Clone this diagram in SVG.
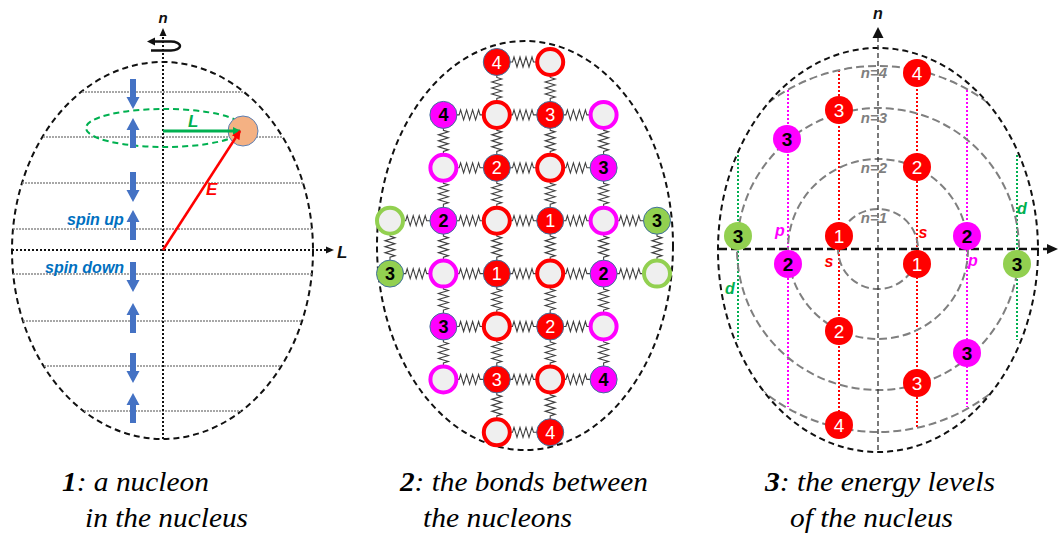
<svg xmlns="http://www.w3.org/2000/svg" xmlns:xlink="http://www.w3.org/1999/xlink" width="1062" height="536" viewBox="0 0 1062 536">
  <style>
    .frame { fill: none; stroke: #111; stroke-width: 2; stroke-dasharray: 6 4; }
    .chord { stroke: #8a8a8a; stroke-width: 1.6; stroke-dasharray: 2 1; }
    .axis1 { stroke: #111; stroke-width: 2; stroke-dasharray: 2 2; fill: none; }
    .spin { fill: #4472c4; }
    .lbl { font-family: "Liberation Sans", Arial, sans-serif; font-weight: bold; font-style: italic; }
    .sp { fill: none; stroke: #404040; stroke-width: 1.1; }
    .fr { fill: #ff0000; stroke: #41719c; stroke-width: 1; }
    .fm { fill: #ff00ff; stroke: #41719c; stroke-width: 1; }
    .fg { fill: #92d050; stroke: #41719c; stroke-width: 1; }
    .hr { fill: #efefef; stroke: #ff0000; stroke-width: 4; }
    .hm { fill: #efefef; stroke: #ff00ff; stroke-width: 4; }
    .hg { fill: #efefef; stroke: #92d050; stroke-width: 4; }
    .nw { fill: #fff; font-family: "Liberation Sans", Arial, sans-serif; font-size: 18px; text-anchor: middle; }
    .nb { fill: #000; font-family: "Liberation Sans", Arial, sans-serif; font-size: 18px; font-weight: bold; text-anchor: middle; }
    .lvl { fill: none; stroke: #7f7f7f; stroke-width: 2; stroke-dasharray: 8 4; }
    .sr { stroke: #ff0000; stroke-width: 2; stroke-dasharray: 2 2; }
    .sm { stroke: #ff00ff; stroke-width: 2; stroke-dasharray: 2 2; }
    .sg { stroke: #00b050; stroke-width: 2; stroke-dasharray: 2 2; }
    .c3r { fill: #ff0000; }
    .c3m { fill: #ff00ff; }
    .c3g { fill: #92d050; }
    .n3w { fill: #fff; font-family: "Liberation Sans", Arial, sans-serif; font-size: 19px; text-anchor: middle; }
    .n3b { fill: #000; font-family: "Liberation Sans", Arial, sans-serif; font-size: 19px; font-weight: bold; text-anchor: middle; }
    .nlab { fill: #7f7f7f; font-family: "Liberation Sans", Arial, sans-serif; font-size: 15px; font-weight: bold; font-style: italic; text-anchor: middle; }
    .cap { font-family: "Liberation Serif", "Times New Roman", serif; font-size: 27px; font-style: italic; fill: #000; }
  </style>
  <defs>
    <marker id="ahGreen" markerWidth="8" markerHeight="8" refX="7" refY="4" orient="auto" markerUnits="userSpaceOnUse">
      <path d="M0,0 L8,4 L0,8 Z" fill="#00b050"/>
    </marker>
    <marker id="ahRed" markerWidth="9" markerHeight="9" refX="8" refY="4.5" orient="auto" markerUnits="userSpaceOnUse">
      <path d="M0,0 L9,4.5 L0,9 Z" fill="#ff0000"/>
    </marker>
    <!-- spin arrows -->
    <polygon id="dn" class="spin" points="-3,0 3,0 3,18 6.5,18 0,30 -6.5,18 -3,18"/>
    <polygon id="up" class="spin" points="0,0 6.5,12 3,12 3,30 -3,30 -3,12 -6.5,12"/>
    <!-- spring centred on the origin -->
    <path id="spr" class="sp" d="M-14 0 H-11 L-9.5 -5 L-6.5 5 L-3.5 -5 L-0.5 5 L2.5 -5 L5.5 5 L8.5 -5 L10 0 H14"/>
    <clipPath id="outer3">
      <ellipse cx="878" cy="250" rx="160" ry="202"/>
    </clipPath>
  </defs>

  <!-- ============ Panel 1: a nucleon ============ -->
  <g id="panel1">
    <ellipse class="frame" cx="162.5" cy="250.5" rx="150.5" ry="188.5"/>
    <g id="p1-chords">
      <line class="chord" x1="82" y1="92" x2="243" y2="92"/>
      <line class="chord" x1="43" y1="137" x2="282" y2="137"/>
      <line class="chord" x1="22" y1="183" x2="303" y2="183"/>
      <line class="chord" x1="13" y1="229" x2="312" y2="229"/>
      <line class="chord" x1="13" y1="274" x2="312" y2="274"/>
      <line class="chord" x1="23" y1="321" x2="302" y2="321"/>
      <line class="chord" x1="44" y1="366" x2="281" y2="366"/>
      <line class="chord" x1="84" y1="411" x2="241" y2="411"/>
    </g>
    <g id="p1-axes">
      <line class="axis1" x1="163" y1="439" x2="163" y2="36"/>
      <polygon points="163,28 159.5,36 166.5,36" fill="#111"/>
      <line class="axis1" x1="12" y1="250" x2="326" y2="250"/>
      <polygon points="334,250 326,246.5 326,253.5" fill="#111"/>
      <text class="lbl" x="163" y="23" font-size="15" text-anchor="middle" fill="#111">n</text>
      <text class="lbl" x="337" y="258" font-size="17" fill="#111">L</text>
      <!-- rotation sense -->
      <path d="M155 41.5 H171 A9 4.5 0 0 1 171 50.5 H151" fill="none" stroke="#111" stroke-width="2.4"/>
      <polygon points="147,41.5 155,37.5 155,45.5" fill="#111"/>
    </g>
    <ellipse id="p1-orbit" cx="164.5" cy="128" rx="78.5" ry="19" fill="none" stroke="#00b050" stroke-width="2" stroke-dasharray="6 4"/>
    <g id="p1-spins">
      <use href="#dn" transform="translate(133,79)"/>
      <use href="#up" transform="translate(133,118)"/>
      <use href="#dn" transform="translate(133,172)"/>
      <use href="#up" transform="translate(133,210)"/>
      <use href="#dn" transform="translate(133,262)"/>
      <use href="#up" transform="translate(133,303)"/>
      <use href="#dn" transform="translate(133,353)"/>
      <use href="#up" transform="translate(133,393)"/>
      <text class="lbl" x="67" y="225" font-size="16" fill="#0070c0">spin up</text>
      <text class="lbl" x="45" y="273" font-size="16" fill="#0070c0">spin down</text>
    </g>
    <g id="p1-nucleon">
      <circle cx="243" cy="131" r="15" fill="#f4b183" stroke="#5b7fb5" stroke-width="1"/>
    </g>
    <g id="p1-vectors">
      <line x1="163" y1="131" x2="240" y2="131" stroke="#00b050" stroke-width="3" marker-end="url(#ahGreen)"/>
      <line x1="163" y1="250" x2="240" y2="131" stroke="#ff0000" stroke-width="2.5" marker-end="url(#ahRed)"/>
      <text class="lbl" x="188" y="127" font-size="17" fill="#00b050">L</text>
      <text class="lbl" x="206" y="195" font-size="17" fill="#ff0000">E</text>
    </g>
  </g>

  <!-- ============ Panel 2: bonds between nucleons ============ -->
  <g id="panel2">
    <ellipse class="frame" cx="525" cy="245.5" rx="148" ry="204.5"/>
    <g id="p2-springs">
      <!-- horizontal bonds -->
      <use href="#spr" transform="translate(523.5,62)"/>
      <use href="#spr" transform="translate(470.1,114.9)"/>
      <use href="#spr" transform="translate(523.5,114.9)"/>
      <use href="#spr" transform="translate(576.9,114.9)"/>
      <use href="#spr" transform="translate(470.1,167.8)"/>
      <use href="#spr" transform="translate(523.5,167.8)"/>
      <use href="#spr" transform="translate(576.9,167.8)"/>
      <use href="#spr" transform="translate(416.7,220.7)"/>
      <use href="#spr" transform="translate(470.1,220.7)"/>
      <use href="#spr" transform="translate(523.5,220.7)"/>
      <use href="#spr" transform="translate(576.9,220.7)"/>
      <use href="#spr" transform="translate(630.3,220.7)"/>
      <use href="#spr" transform="translate(416.7,273.6)"/>
      <use href="#spr" transform="translate(470.1,273.6)"/>
      <use href="#spr" transform="translate(523.5,273.6)"/>
      <use href="#spr" transform="translate(576.9,273.6)"/>
      <use href="#spr" transform="translate(630.3,273.6)"/>
      <use href="#spr" transform="translate(470.1,326.5)"/>
      <use href="#spr" transform="translate(523.5,326.5)"/>
      <use href="#spr" transform="translate(576.9,326.5)"/>
      <use href="#spr" transform="translate(470.1,379.4)"/>
      <use href="#spr" transform="translate(523.5,379.4)"/>
      <use href="#spr" transform="translate(576.9,379.4)"/>
      <use href="#spr" transform="translate(523.5,432.3)"/>
      <!-- vertical bonds -->
      <use href="#spr" transform="translate(496.8,88.45) rotate(90)"/>
      <use href="#spr" transform="translate(550.2,88.45) rotate(90)"/>
      <use href="#spr" transform="translate(443.4,141.35) rotate(90)"/>
      <use href="#spr" transform="translate(496.8,141.35) rotate(90)"/>
      <use href="#spr" transform="translate(550.2,141.35) rotate(90)"/>
      <use href="#spr" transform="translate(603.6,141.35) rotate(90)"/>
      <use href="#spr" transform="translate(443.4,194.25) rotate(90)"/>
      <use href="#spr" transform="translate(496.8,194.25) rotate(90)"/>
      <use href="#spr" transform="translate(550.2,194.25) rotate(90)"/>
      <use href="#spr" transform="translate(603.6,194.25) rotate(90)"/>
      <use href="#spr" transform="translate(390,247.15) rotate(90)"/>
      <use href="#spr" transform="translate(443.4,247.15) rotate(90)"/>
      <use href="#spr" transform="translate(496.8,247.15) rotate(90)"/>
      <use href="#spr" transform="translate(550.2,247.15) rotate(90)"/>
      <use href="#spr" transform="translate(603.6,247.15) rotate(90)"/>
      <use href="#spr" transform="translate(657,247.15) rotate(90)"/>
      <use href="#spr" transform="translate(443.4,300.05) rotate(90)"/>
      <use href="#spr" transform="translate(496.8,300.05) rotate(90)"/>
      <use href="#spr" transform="translate(550.2,300.05) rotate(90)"/>
      <use href="#spr" transform="translate(603.6,300.05) rotate(90)"/>
      <use href="#spr" transform="translate(443.4,352.95) rotate(90)"/>
      <use href="#spr" transform="translate(496.8,352.95) rotate(90)"/>
      <use href="#spr" transform="translate(550.2,352.95) rotate(90)"/>
      <use href="#spr" transform="translate(603.6,352.95) rotate(90)"/>
      <use href="#spr" transform="translate(496.8,405.85) rotate(90)"/>
      <use href="#spr" transform="translate(550.2,405.85) rotate(90)"/>
    </g>
    <!-- row 0 -->
    <g id="p2-r0c2"><circle class="fr" cx="496.8" cy="62" r="13.5"/><text class="nw" x="496.8" y="68.5">4</text></g>
    <g id="p2-r0c3"><circle class="hr" cx="550.2" cy="62" r="13"/></g>
    <!-- row 1 -->
    <g id="p2-r1c1"><circle class="fm" cx="443.4" cy="114.9" r="13.5"/><text class="nb" x="443.4" y="121.4">4</text></g>
    <g id="p2-r1c2"><circle class="hr" cx="496.8" cy="114.9" r="13"/></g>
    <g id="p2-r1c3"><circle class="fr" cx="550.2" cy="114.9" r="13.5"/><text class="nw" x="550.2" y="121.4">3</text></g>
    <g id="p2-r1c4"><circle class="hm" cx="603.6" cy="114.9" r="13"/></g>
    <!-- row 2 -->
    <g id="p2-r2c1"><circle class="hm" cx="443.4" cy="167.8" r="13"/></g>
    <g id="p2-r2c2"><circle class="fr" cx="496.8" cy="167.8" r="13.5"/><text class="nw" x="496.8" y="174.3">2</text></g>
    <g id="p2-r2c3"><circle class="hr" cx="550.2" cy="167.8" r="13"/></g>
    <g id="p2-r2c4"><circle class="fm" cx="603.6" cy="167.8" r="13.5"/><text class="nb" x="603.6" y="174.3">3</text></g>
    <!-- row 3 -->
    <g id="p2-r3c0"><circle class="hg" cx="390" cy="220.7" r="13"/></g>
    <g id="p2-r3c1"><circle class="fm" cx="443.4" cy="220.7" r="13.5"/><text class="nb" x="443.4" y="227.2">2</text></g>
    <g id="p2-r3c2"><circle class="hr" cx="496.8" cy="220.7" r="13"/></g>
    <g id="p2-r3c3"><circle class="fr" cx="550.2" cy="220.7" r="13.5"/><text class="nw" x="550.2" y="227.2">1</text></g>
    <g id="p2-r3c4"><circle class="hm" cx="603.6" cy="220.7" r="13"/></g>
    <g id="p2-r3c5"><circle class="fg" cx="657" cy="220.7" r="13.5"/><text class="nb" x="657" y="227.2">3</text></g>
    <!-- row 4 -->
    <g id="p2-r4c0"><circle class="fg" cx="390" cy="273.6" r="13.5"/><text class="nb" x="390" y="280.1">3</text></g>
    <g id="p2-r4c1"><circle class="hm" cx="443.4" cy="273.6" r="13"/></g>
    <g id="p2-r4c2"><circle class="fr" cx="496.8" cy="273.6" r="13.5"/><text class="nw" x="496.8" y="280.1">1</text></g>
    <g id="p2-r4c3"><circle class="hr" cx="550.2" cy="273.6" r="13"/></g>
    <g id="p2-r4c4"><circle class="fm" cx="603.6" cy="273.6" r="13.5"/><text class="nb" x="603.6" y="280.1">2</text></g>
    <g id="p2-r4c5"><circle class="hg" cx="657" cy="273.6" r="13"/></g>
    <!-- row 5 -->
    <g id="p2-r5c1"><circle class="fm" cx="443.4" cy="326.5" r="13.5"/><text class="nb" x="443.4" y="333">3</text></g>
    <g id="p2-r5c2"><circle class="hr" cx="496.8" cy="326.5" r="13"/></g>
    <g id="p2-r5c3"><circle class="fr" cx="550.2" cy="326.5" r="13.5"/><text class="nw" x="550.2" y="333">2</text></g>
    <g id="p2-r5c4"><circle class="hm" cx="603.6" cy="326.5" r="13"/></g>
    <!-- row 6 -->
    <g id="p2-r6c1"><circle class="hm" cx="443.4" cy="379.4" r="13"/></g>
    <g id="p2-r6c2"><circle class="fr" cx="496.8" cy="379.4" r="13.5"/><text class="nw" x="496.8" y="385.9">3</text></g>
    <g id="p2-r6c3"><circle class="hr" cx="550.2" cy="379.4" r="13"/></g>
    <g id="p2-r6c4"><circle class="fm" cx="603.6" cy="379.4" r="13.5"/><text class="nb" x="603.6" y="385.9">4</text></g>
    <!-- row 7 -->
    <g id="p2-r7c2"><circle class="hr" cx="496.8" cy="432.3" r="13"/></g>
    <g id="p2-r7c3"><circle class="fr" cx="550.2" cy="432.3" r="13.5"/><text class="nw" x="550.2" y="438.8">4</text></g>
  </g>

  <!-- ============ Panel 3: energy levels ============ -->
  <g id="panel3">
    <g id="p3-subshells">
      <line class="sr" x1="839" y1="70" x2="839" y2="427"/>
      <line class="sr" x1="917" y1="73" x2="917" y2="428"/>
      <line class="sm" x1="788" y1="90" x2="788" y2="407"/>
      <line class="sm" x1="967" y1="90" x2="967" y2="407"/>
      <line class="sg" x1="738" y1="155" x2="738" y2="340"/>
      <line class="sg" x1="1017" y1="155" x2="1017" y2="340"/>
    </g>
    <g id="p3-levels">
      <circle class="lvl" cx="878" cy="249" r="40"/>
      <circle class="lvl" cx="878" cy="249" r="90"/>
      <circle class="lvl" cx="878" cy="249" r="141"/>
      <circle class="lvl" cx="878" cy="249" r="183" clip-path="url(#outer3)"/>
    </g>
    <ellipse class="frame" cx="878" cy="250" rx="160" ry="202"/>
    <g id="p3-axes">
      <line x1="878" y1="450" x2="878" y2="38" stroke="#333" stroke-width="1.3" stroke-dasharray="5 3"/>
      <polygon points="878,27 872.5,38 883.5,38" fill="#111"/>
      <line x1="719" y1="249" x2="1047" y2="249" stroke="#111" stroke-width="2.4" stroke-dasharray="8 4"/>
      <polygon points="1058,249 1047,244 1047,254" fill="#111"/>
      <text class="lbl" x="878" y="19" font-size="16" text-anchor="middle" fill="#111">n</text>
    </g>
    <g id="p3-level-labels">
      <text class="nlab" x="874" y="78">n=4</text>
      <text class="nlab" x="874" y="123">n=3</text>
      <text class="nlab" x="874" y="173">n=2</text>
      <text class="nlab" x="874" y="223">n=1</text>
    </g>
    <g id="p3-shell-labels" class="lbl" font-size="16">
      <text x="780" y="236" fill="#ff00ff" text-anchor="middle">p</text>
      <text x="923" y="238" fill="#ff0000" text-anchor="middle">s</text>
      <text x="1022" y="214" fill="#00b050" text-anchor="middle">d</text>
      <text x="829" y="267" fill="#ff0000" text-anchor="middle">s</text>
      <text x="973" y="266" fill="#ff00ff" text-anchor="middle">p</text>
      <text x="730" y="294" fill="#00b050" text-anchor="middle">d</text>
    </g>
    <g id="p3-n-red4a"><circle class="c3r" cx="917" cy="73" r="14"/><text class="n3w" x="917" y="80">4</text></g>
    <g id="p3-n-red3a"><circle class="c3r" cx="839" cy="110" r="14"/><text class="n3w" x="839" y="117">3</text></g>
    <g id="p3-n-mag3a"><circle class="c3m" cx="787" cy="139" r="14"/><text class="n3b" x="787" y="146">3</text></g>
    <g id="p3-n-red2a"><circle class="c3r" cx="917" cy="167" r="14"/><text class="n3w" x="917" y="174">2</text></g>
    <g id="p3-n-grn3a"><circle class="c3g" cx="738" cy="236" r="14"/><text class="n3b" x="738" y="243">3</text></g>
    <g id="p3-n-red1a"><circle class="c3r" cx="839" cy="236" r="14"/><text class="n3w" x="839" y="243">1</text></g>
    <g id="p3-n-mag2a"><circle class="c3m" cx="967" cy="236" r="14"/><text class="n3b" x="967" y="243">2</text></g>
    <g id="p3-n-mag2b"><circle class="c3m" cx="788" cy="264" r="14"/><text class="n3b" x="788" y="271">2</text></g>
    <g id="p3-n-red1b"><circle class="c3r" cx="917" cy="264" r="14"/><text class="n3w" x="917" y="271">1</text></g>
    <g id="p3-n-grn3b"><circle class="c3g" cx="1017" cy="264" r="14"/><text class="n3b" x="1017" y="271">3</text></g>
    <g id="p3-n-red2b"><circle class="c3r" cx="839" cy="331" r="14"/><text class="n3w" x="839" y="338">2</text></g>
    <g id="p3-n-mag3b"><circle class="c3m" cx="967" cy="353" r="14"/><text class="n3b" x="967" y="360">3</text></g>
    <g id="p3-n-red3b"><circle class="c3r" cx="917" cy="383" r="14"/><text class="n3w" x="917" y="390">3</text></g>
    <g id="p3-n-red4b"><circle class="c3r" cx="839" cy="425" r="14"/><text class="n3w" x="839" y="432">4</text></g>
  </g>

  <!-- ============ Captions ============ -->
  <g id="captions">
    <text class="cap" x="62" y="491" textLength="147" lengthAdjust="spacingAndGlyphs"><tspan font-weight="bold">1</tspan>: a nucleon</text>
    <text class="cap" x="85" y="527" textLength="163" lengthAdjust="spacingAndGlyphs">in the nucleus</text>
    <text class="cap" x="400" y="491" textLength="248" lengthAdjust="spacingAndGlyphs"><tspan font-weight="bold">2</tspan>: the bonds between</text>
    <text class="cap" x="423" y="527" textLength="149" lengthAdjust="spacingAndGlyphs">the nucleons</text>
    <text class="cap" x="765" y="491" textLength="230" lengthAdjust="spacingAndGlyphs"><tspan font-weight="bold">3</tspan>: the energy levels</text>
    <text class="cap" x="790" y="527" textLength="163" lengthAdjust="spacingAndGlyphs">of the nucleus</text>
  </g>
</svg>
